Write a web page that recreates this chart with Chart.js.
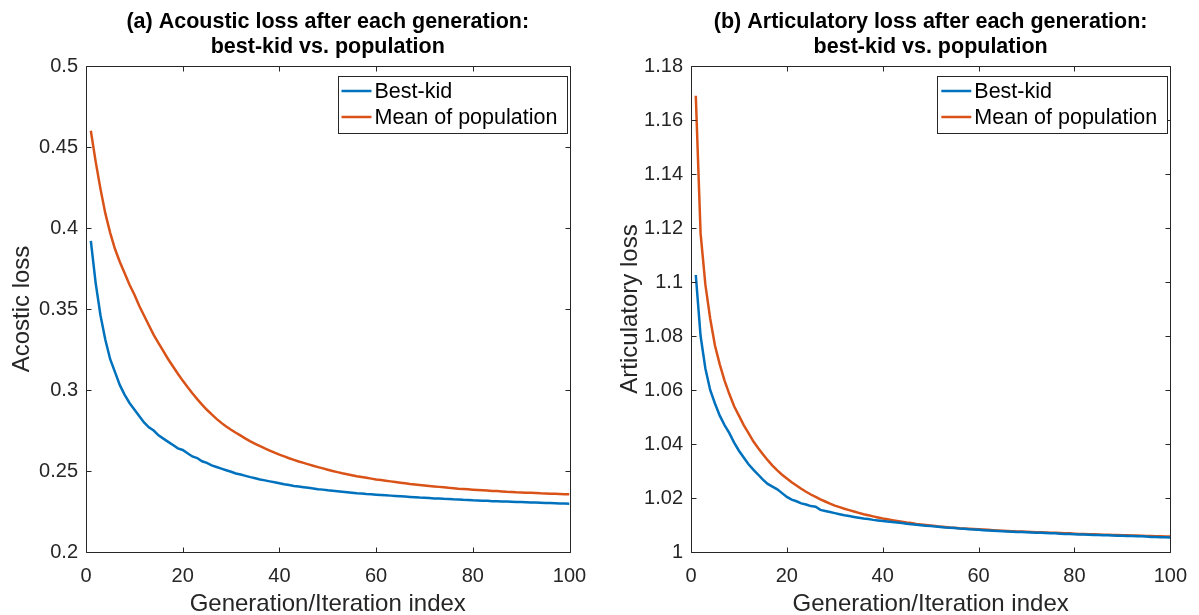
<!DOCTYPE html>
<html>
<head>
<meta charset="utf-8">
<script src="https://cdn.jsdelivr.net/npm/chart.js@4.4.1/dist/chart.umd.min.js"></script>
<style>
  html, body { margin: 0; padding: 0; background: #ffffff; }
  #wrap { position: relative; width: 1199px; height: 615px; overflow: hidden; }
  .cv { position: absolute; top: 0; }
</style>
</head>
<body>
<div id="wrap">
  <div class="cv" style="left:0px;width:600px;height:615px;"><canvas id="cA"></canvas></div>
  <div class="cv" style="left:600px;width:599px;height:615px;"><canvas id="cB"></canvas></div>
</div>
<script>
// ---------------- DATA ----------------
const generations = Array.from({length: 100}, (_, k) => k + 1);

const seriesNames = ["Best-kid", "Mean of population"];

const titleA = ["(a) Acoustic loss after each generation:", "best-kid vs. population"];
const titleB = ["(b) Articulatory loss after each generation:", "best-kid vs. population"];
const yLabelA = "Acostic loss";
const yLabelB = "Articulatory loss";
const xLabel = "Generation/Iteration index";

const xTicks = [0, 20, 40, 60, 80, 100];
const yTicksA = [0.2, 0.25, 0.3, 0.35, 0.4, 0.45, 0.5];
const yTickLabelsA = ["0.2", "0.25", "0.3", "0.35", "0.4", "0.45", "0.5"];
const yTicksB = [1, 1.02, 1.04, 1.06, 1.08, 1.1, 1.12, 1.14, 1.16, 1.18];
const yTickLabelsB = ["1", "1.02", "1.04", "1.06", "1.08", "1.1", "1.12", "1.14", "1.16", "1.18"];

const acousticBest = [
  0.392, 0.366, 0.346, 0.331, 0.319, 0.311, 0.303, 0.297, 0.292, 0.288,
  0.284, 0.280, 0.277, 0.275, 0.272, 0.270, 0.268, 0.266, 0.264, 0.263,
  0.261, 0.259, 0.258, 0.256, 0.255, 0.2535, 0.2525, 0.2515, 0.2505, 0.2495,
  0.2485, 0.2478, 0.2470, 0.2462, 0.2455, 0.2448, 0.2442, 0.2436, 0.2430, 0.2424,
  0.2418, 0.2413, 0.2408, 0.2404, 0.2400, 0.2396, 0.2392, 0.2388, 0.2385, 0.2381,
  0.2378, 0.2375, 0.2372, 0.2369, 0.2366, 0.2363, 0.2361, 0.2358, 0.2356, 0.2354,
  0.2352, 0.2350, 0.2348, 0.2346, 0.2344, 0.2342, 0.2340, 0.2338, 0.2336, 0.2335,
  0.2333, 0.2331, 0.2330, 0.2328, 0.2327, 0.2325, 0.2324, 0.2322, 0.2321, 0.2319,
  0.2318, 0.2317, 0.2316, 0.2314, 0.2313, 0.2312, 0.2311, 0.2310, 0.2309, 0.2308,
  0.2307, 0.2306, 0.2305, 0.2304, 0.2303, 0.2302, 0.2301, 0.2300, 0.2299, 0.2298
];

const acousticMean = [
  0.460, 0.441, 0.424, 0.409, 0.397, 0.387, 0.379, 0.372, 0.365, 0.359,
  0.352, 0.346, 0.340, 0.334, 0.329, 0.324, 0.319, 0.3145, 0.3100, 0.3058,
  0.3018, 0.2980, 0.2944, 0.2910, 0.2878, 0.2849, 0.2822, 0.2797, 0.2775, 0.2755,
  0.2736, 0.2718, 0.2700, 0.2683, 0.2668, 0.2653, 0.2639, 0.2626, 0.2613, 0.2601,
  0.2590, 0.2579, 0.2569, 0.2559, 0.2550, 0.2541, 0.2532, 0.2524, 0.2516, 0.2508,
  0.2500, 0.2493, 0.2486, 0.2480, 0.2474, 0.2468, 0.2463, 0.2458, 0.2453, 0.2448,
  0.2444, 0.2440, 0.2436, 0.2432, 0.2428, 0.2424, 0.2420, 0.2417, 0.2414, 0.2411,
  0.2408, 0.2405, 0.2402, 0.2399, 0.2396, 0.2394, 0.2391, 0.2389, 0.2387, 0.2385,
  0.2383, 0.2381, 0.2379, 0.2377, 0.2376, 0.2374, 0.2372, 0.2371, 0.2369, 0.2368,
  0.2366, 0.2365, 0.2364, 0.2362, 0.2361, 0.2360, 0.2359, 0.2358, 0.2357, 0.2356
];

const articBest = [
  1.1026, 1.0800, 1.0680, 1.0600, 1.0550, 1.0505, 1.0470, 1.0440, 1.0405, 1.0375,
  1.0350, 1.0325, 1.0305, 1.0287, 1.0268, 1.0252, 1.0242, 1.0232, 1.0218, 1.0204,
  1.0194, 1.0188, 1.0180, 1.0176, 1.0170, 1.0168, 1.0156, 1.0152, 1.0148, 1.0144,
  1.0140, 1.0136, 1.0133, 1.0130, 1.0127, 1.0124, 1.0122, 1.0119, 1.0117, 1.0115,
  1.0113, 1.0111, 1.0109, 1.0107, 1.0105, 1.0103, 1.0101, 1.0099, 1.0097, 1.0096,
  1.0094, 1.0093, 1.0091, 1.0090, 1.0089, 1.0087, 1.0086, 1.0084, 1.0083, 1.0082,
  1.0081, 1.0080, 1.0079, 1.0078, 1.0077, 1.0076, 1.0075, 1.0074, 1.0074, 1.0073,
  1.0072, 1.0071, 1.0071, 1.0070, 1.0069, 1.0069, 1.0068, 1.0067, 1.0067, 1.0066,
  1.0065, 1.0065, 1.0064, 1.0063, 1.0063, 1.0062, 1.0062, 1.0061, 1.0060, 1.0060,
  1.0059, 1.0059, 1.0058, 1.0058, 1.0057, 1.0056, 1.0056, 1.0055, 1.0055, 1.0054
];

const articMean = [
  1.169, 1.118, 1.099, 1.0865, 1.0765, 1.0695, 1.0635, 1.0585, 1.0540, 1.0505,
  1.0470, 1.0440, 1.0410, 1.0385, 1.0362, 1.0340, 1.0320, 1.0302, 1.0286, 1.0272,
  1.0258, 1.0246, 1.0234, 1.0223, 1.0213, 1.0204, 1.0195, 1.0187, 1.0179, 1.0172,
  1.0166, 1.0160, 1.0155, 1.0150, 1.0145, 1.0140, 1.0136, 1.0132, 1.0128, 1.0124,
  1.0121, 1.0118, 1.0115, 1.0112, 1.0109, 1.0107, 1.0104, 1.0102, 1.0100, 1.0098,
  1.0096, 1.0094, 1.0093, 1.0091, 1.0090, 1.0088, 1.0087, 1.0086, 1.0085, 1.0084,
  1.0083, 1.0082, 1.0081, 1.0080, 1.0079, 1.0078, 1.0077, 1.0076, 1.0076, 1.0075,
  1.0074, 1.0073, 1.0073, 1.0072, 1.0071, 1.0071, 1.0070, 1.0069, 1.0069, 1.0068,
  1.0067, 1.0067, 1.0066, 1.0066, 1.0065, 1.0064, 1.0064, 1.0063, 1.0063, 1.0062,
  1.0062, 1.0061, 1.0061, 1.0060, 1.0059, 1.0059, 1.0058, 1.0058, 1.0057, 1.0057
];

// ---------------- STYLE ----------------
const BLUE = '#0072BD';
const ORANGE = '#D95319';
const INK = '#262626';
const FONT = "'Liberation Sans', Arial, Helvetica, sans-serif";
const LINE_W = 2.5;

// box + inward ticks (MATLAB style)
const boxPlugin = {
  id: 'matlabBox',
  afterDatasetsDraw(chart) {
    const {ctx, chartArea: a, scales} = chart;
    ctx.save();
    ctx.strokeStyle = INK;
    ctx.lineWidth = 1;
    const L = Math.round(a.left) + 0.5, R = Math.round(a.right) + 0.5;
    const T = Math.round(a.top) + 0.5, B = Math.round(a.bottom) + 0.5;
    ctx.beginPath();
    ctx.rect(L, T, R - L, B - T);
    ctx.stroke();
    const tl = 5;
    ctx.beginPath();
    scales.x.ticks.forEach(t => {
      const px = Math.round(scales.x.getPixelForValue(t.value)) + 0.5;
      ctx.moveTo(px, B); ctx.lineTo(px, B - tl);
      ctx.moveTo(px, T); ctx.lineTo(px, T + tl);
    });
    scales.y.ticks.forEach(t => {
      const py = Math.round(scales.y.getPixelForValue(t.value)) + 0.5;
      ctx.moveTo(L, py); ctx.lineTo(L + tl, py);
      ctx.moveTo(R, py); ctx.lineTo(R - tl, py);
    });
    ctx.stroke();
    ctx.restore();
  }
};

// legend box inside top-right of plot area
const legendBoxPlugin = {
  id: 'matlabLegend',
  afterDatasetsDraw(chart, args, opts) {
    const {ctx, chartArea: a} = chart;
    const w = opts.width, h = opts.height;
    const x0 = a.right - opts.right - w;
    const y0 = a.top + opts.top;
    ctx.save();
    ctx.fillStyle = '#ffffff';
    ctx.fillRect(x0, y0, w, h);
    ctx.strokeStyle = INK;
    ctx.lineWidth = 1;
    ctx.strokeRect(Math.round(x0) + 0.5, Math.round(y0) + 0.5, Math.round(w), Math.round(h));
    ctx.font = opts.fontSize + 'px ' + FONT;
    ctx.textBaseline = 'middle';
    ctx.textAlign = 'left';
    chart.data.datasets.forEach((ds, i) => {
      const cy = y0 + opts.firstRow + i * opts.rowH;
      ctx.strokeStyle = ds.borderColor;
      ctx.lineWidth = LINE_W;
      ctx.beginPath();
      ctx.moveTo(x0 + 4, cy);
      ctx.lineTo(x0 + 34, cy);
      ctx.stroke();
      ctx.fillStyle = '#000000';
      ctx.fillText(ds.label, x0 + 37, cy + 1);
    });
    ctx.restore();
  }
};

function makeChart(id, best, mean, title, yLabel, yMin, yMax, yTicks, yTickLabels, yAxisW, padRight, yTitlePad, legendW) {
  const pts = arr => arr.map((v, k) => ({x: generations[k], y: v}));
  return new Chart(document.getElementById(id), {
    type: 'line',
    data: {
      datasets: [
        {label: seriesNames[0], data: pts(best), borderColor: BLUE, backgroundColor: BLUE, borderWidth: LINE_W, pointRadius: 0, tension: 0},
        {label: seriesNames[1], data: pts(mean), borderColor: ORANGE, backgroundColor: ORANGE, borderWidth: LINE_W, pointRadius: 0, tension: 0}
      ]
    },
    options: {
      responsive: true,
      maintainAspectRatio: false,
      animation: false,
      devicePixelRatio: 1,
      layout: {padding: {left: 0, right: padRight, top: 0, bottom: 0}},
      plugins: {
        legend: {display: false},
        tooltip: {enabled: false},
        title: {
          display: true,
          text: title,
          fullSize: false,
          color: '#000000',
          font: {family: FONT, size: 21.5, weight: 'bold', lineHeight: 25 / 21.5},
          padding: {top: 9.5, bottom: 6.5}
        },
        matlabLegend: {width: legendW, height: 57, right: 3, top: 10, firstRow: 15, rowH: 26, fontSize: 21.5}
      },
      scales: {
        x: {
          type: 'linear',
          min: 0, max: 100,
          afterBuildTicks: s => { s.ticks = xTicks.map(v => ({value: v})); },
          afterFit: s => { s.height = 63; },
          grid: {display: false, drawTicks: false},
          border: {display: false},
          ticks: {color: INK, font: {family: FONT, size: 20}, padding: 12, maxRotation: 0, autoSkip: false},
          title: {display: true, text: xLabel, color: INK, font: {family: FONT, size: 24, lineHeight: 0.92}, padding: {top: 0, bottom: 0}}
        },
        y: {
          type: 'linear',
          min: yMin, max: yMax,
          afterBuildTicks: s => { s.ticks = yTicks.map(v => ({value: v})); },
          afterFit: s => { s.width = yAxisW; },
          grid: {display: false, drawTicks: false},
          border: {display: false},
          ticks: {
            color: INK, font: {family: FONT, size: 20}, padding: 8, autoSkip: false,
            callback: (v) => { const k = yTicks.findIndex(t => Math.abs(t - v) < 1e-9); return k >= 0 ? yTickLabels[k] : ''; }
          },
          title: {display: true, text: yLabel, color: INK, font: {family: FONT, size: 24, lineHeight: 1.2}, padding: {top: yTitlePad, bottom: 0}}
        }
      }
    },
    plugins: [boxPlugin, legendBoxPlugin]
  });
}

makeChart('cA', acousticBest, acousticMean, titleA, yLabelA, 0.2, 0.5, yTicksA, yTickLabelsA, 86, 30.5, 7.6, 229);
makeChart('cB', articBest, articMean, titleB, yLabelB, 1, 1.18, yTicksB, yTickLabelsB, 91, 25, 15.6, 230);
</script>
</body>
</html>
